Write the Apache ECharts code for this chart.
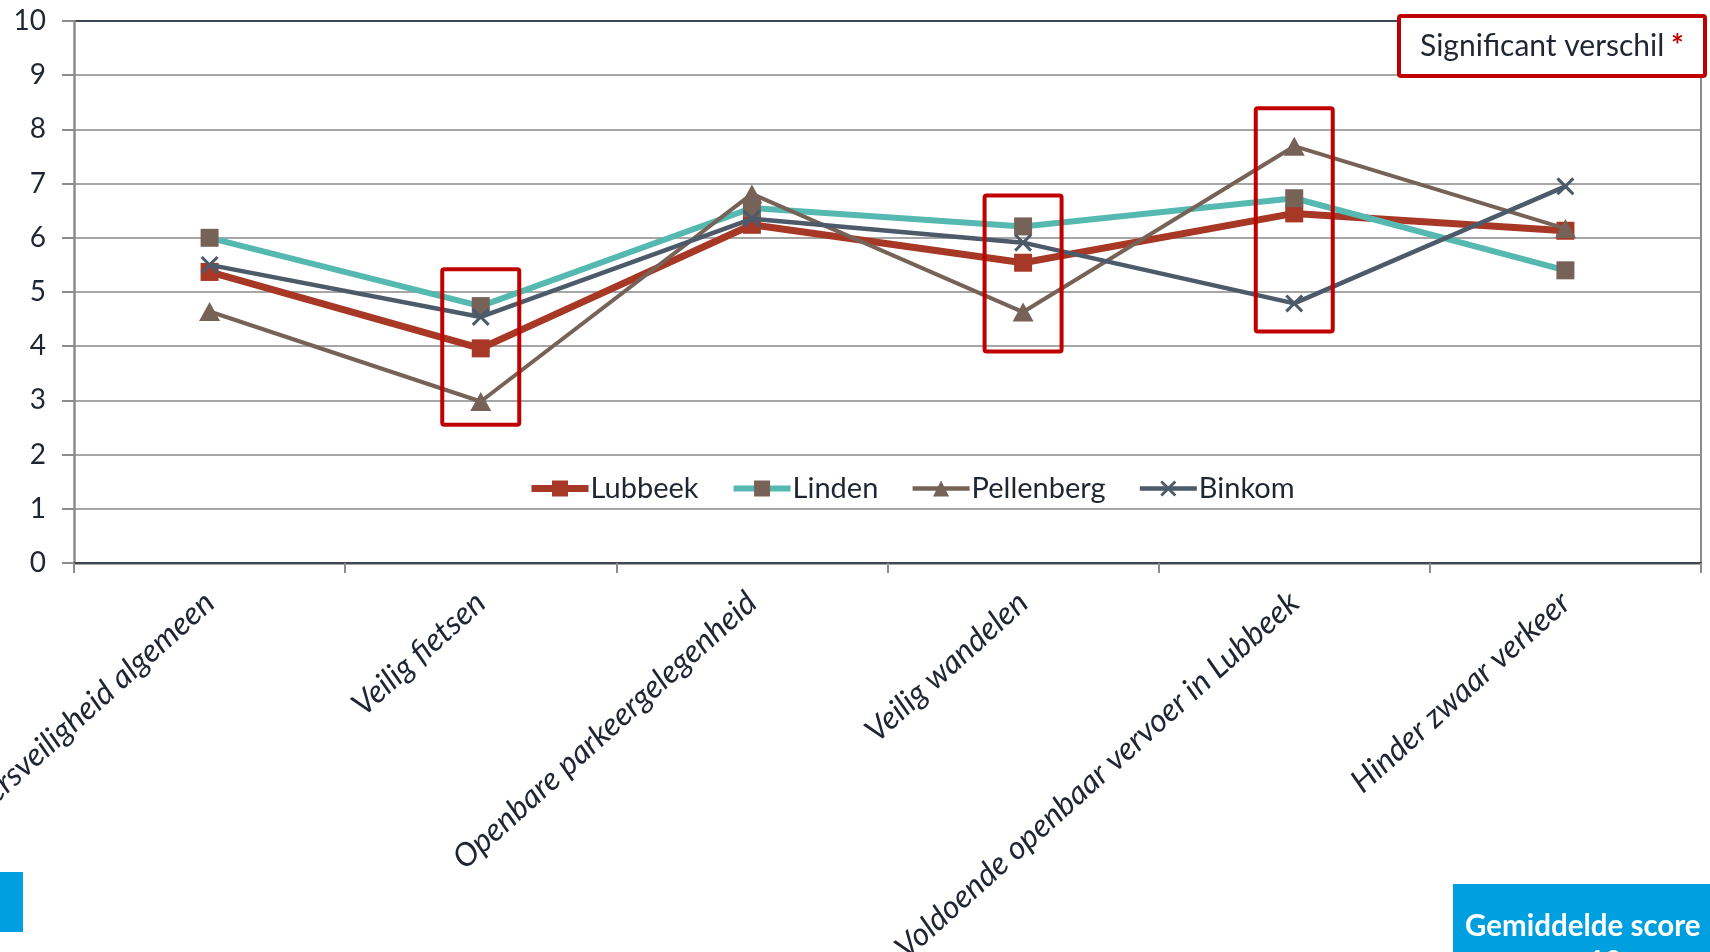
<!DOCTYPE html>
<html>
<head>
<meta charset="utf-8">
<script src="https://cdn.jsdelivr.net/npm/echarts@6/dist/echarts.min.js"></script>
<style>
html,body{margin:0;padding:0;background:#fff;}
#chart{width:1710px;height:952px;}
</style>
</head>
<body>
<div id="chart"></div>
<script>
const categories = ['Verkeersveiligheid algemeen', 'Veilig fietsen', 'Openbare parkeergelegenheid', 'Veilig wandelen', 'Voldoende openbaar vervoer in Lubbeek', 'Hinder zwaar verkeer'];
const lubbeek = [5.37, 3.96, 6.24, 5.54, 6.45, 6.13];
const linden = [6.00, 4.74, 6.55, 6.21, 6.73, 5.40];
const pellenberg = [4.64, 2.98, 6.81, 4.63, 7.69, 6.17];
const binkom = [5.50, 4.54, 6.35, 5.91, 4.79, 6.95];
// significance highlight boxes: [category index, low, high]
const sigBoxes = [[1, 2.55, 5.42], [3, 3.90, 6.78], [4, 4.27, 8.39]];
const yTicks = [0, 1, 2, 3, 4, 5, 6, 7, 8, 9, 10];

const FONT = 'Lato';
const TXT = '#1f2633';
const GRIDC = '#a6a6a6';
const AXC = '#8c8c8c';
const C_RED = '#a83826', C_TEAL = '#55b8b1', C_BROWN = '#766257', C_SLATE = '#4c5a6a';
const XSYM = 'path://M0,0.12L0.12,0L0.5,0.38L0.88,0L1,0.12L0.62,0.5L1,0.88L0.88,1L0.5,0.62L0.12,1L0,0.88L0.38,0.5Z';

const chart = echarts.init(document.getElementById('chart'));
const splitColors = yTicks.map((v, i) => i === yTicks.length - 1 ? '#3e4652' : GRIDC);

chart.setOption({
  animation: false,
  backgroundColor: '#fff',
  textStyle: { fontFamily: FONT },
  grid: { left: 74, right: 9, top: 21, bottom: 389, containLabel: false, outerBoundsMode: 'none' },
  legend: {
    data: [
      { name: 'Lubbeek', lineStyle: { width: 7 } },
      { name: 'Linden', lineStyle: { width: 6 } },
      { name: 'Pellenberg', lineStyle: { width: 4.5 } },
      { name: 'Binkom', lineStyle: { width: 4.5 } }
    ],
    left: 523, top: 469,
    itemWidth: 57, itemHeight: 20, itemGap: 32,
    textStyle: { fontFamily: FONT, fontSize: 29, color: TXT, padding: [0, 0, 0, -3] }
  },
  xAxis: [{
    type: 'category', data: categories, boundaryGap: true, position: 'bottom',
    axisLine: { lineStyle: { color: AXC, width: 2.5 } },
    axisTick: { show: true, length: 10, interval: 0, lineStyle: { color: AXC, width: 2 } },
    axisLabel: { interval: 0, rotate: 42, margin: 35, fontFamily: FONT, fontStyle: 'italic', fontSize: 32, color: TXT },
    splitLine: { show: false }
  }, {
    type: 'category', data: categories, position: 'top',
    axisLine: { show: true, lineStyle: { color: '#3e4652', width: 2 } },
    axisTick: { show: false }, axisLabel: { show: false }, splitLine: { show: false }
  }],
  yAxis: [{
    type: 'value', min: 0, max: 10, interval: 1,
    axisLine: { show: true, lineStyle: { color: AXC, width: 2.5 } },
    axisTick: { show: true, length: 12, lineStyle: { color: AXC, width: 2 } },
    axisLabel: { margin: 28, fontFamily: FONT, fontSize: 28, color: TXT },
    splitLine: { show: true, lineStyle: { color: splitColors, width: 2 } }
  }, {
    type: 'value', min: 0, max: 10, interval: 1, position: 'right',
    axisLine: { show: true, lineStyle: { color: AXC, width: 2 } },
    axisTick: { show: false }, axisLabel: { show: false }, splitLine: { show: false }
  }],
  series: [
    { name: 'Lubbeek', type: 'line', data: lubbeek, symbol: 'rect', symbolSize: 18,
      lineStyle: { color: C_RED, width: 7 }, itemStyle: { color: C_RED }, z: 3 },
    { name: 'Linden', type: 'line', data: linden, symbol: 'rect', symbolSize: 18,
      lineStyle: { color: C_TEAL, width: 6 }, itemStyle: { color: C_BROWN }, z: 4 },
    { name: 'Pellenberg', type: 'line', data: pellenberg, symbol: 'triangle', symbolSize: [21, 19],
      lineStyle: { color: C_BROWN, width: 4 }, itemStyle: { color: C_BROWN }, z: 5 },
    { name: 'Binkom', type: 'line', data: binkom, symbol: XSYM, symbolSize: 18,
      lineStyle: { color: C_SLATE, width: 4.5 }, itemStyle: { color: C_SLATE }, z: 6 },
    { name: 'sig', type: 'custom', data: sigBoxes, z: 10, silent: true,
      encode: { x: 0, y: [1, 2] },
      renderItem: function (params, api) {
        const top = api.coord([api.value(0), api.value(2)]);
        const bot = api.coord([api.value(0), api.value(1)]);
        const w = 77;
        return {
          type: 'rect',
          shape: { x: top[0] - w / 2, y: top[1], width: w, height: bot[1] - top[1], r: 2 },
          style: { fill: 'none', stroke: '#c00000', lineWidth: 4 }
        };
      }
    }
  ],
  graphic: [
    { type: 'rect', left: 1397, top: 14, z: 20,
      shape: { width: 306, height: 60, r: 2 },
      style: { fill: '#fff', stroke: '#c00000', lineWidth: 4 } },
    { type: 'text', left: 1420, top: 31, z: 21,
      style: { text: '{a|Significant verschil}  {b|*}',
        rich: { a: { fontFamily: FONT, fontSize: 30, fill: TXT }, b: { fontFamily: FONT, fontSize: 30, fill: '#c00000', fontWeight: 'bold' } } } },
    { type: 'rect', left: 0, top: 872, shape: { width: 23, height: 60 }, style: { fill: '#009fdf' } },
    { type: 'rect', left: 1453, top: 884, shape: { width: 257, height: 68 }, style: { fill: '#009fdf' } },
    { type: 'text', left: 1465, top: 911, style: { text: 'Gemiddelde score', fontFamily: FONT, fontSize: 29.5, fontWeight: 'bold', fill: '#fff' } },
    { type: 'text', left: 1548, top: 947, style: { text: 'op 10', fontFamily: FONT, fontSize: 29, fontWeight: 'bold', fill: '#fff' } }
  ]
});
</script>
</body>
</html>
